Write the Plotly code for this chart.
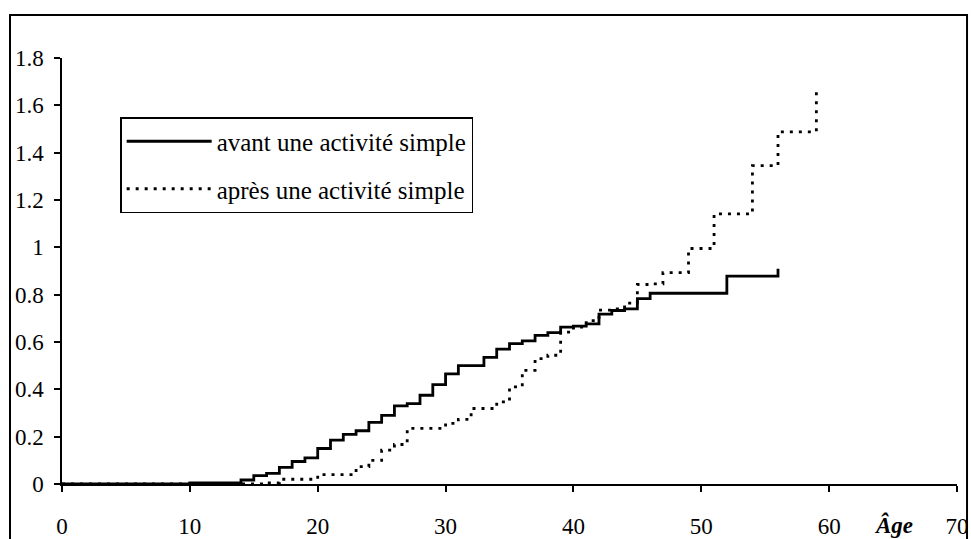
import plotly.graph_objects as go

# Data (cumulative values by age)
avant_age = [0, 10, 14, 15, 16, 17, 18, 19, 20, 21, 22, 23, 24, 25, 26, 27, 28, 29, 30, 31,
             33, 34, 35, 36, 37, 38, 39, 40, 41, 42, 43, 44, 45, 46, 52, 56]
avant_val = [0, 0.005, 0.017, 0.035, 0.045, 0.07, 0.095, 0.11, 0.15, 0.185, 0.21, 0.225, 0.26,
             0.29, 0.33, 0.34, 0.375, 0.42, 0.465, 0.5, 0.535, 0.57, 0.593, 0.605, 0.628, 0.64,
             0.663, 0.667, 0.677, 0.718, 0.733, 0.74, 0.783, 0.806, 0.878, 0.91]

apres_age = [0, 16, 17, 20, 23, 24, 25, 26, 27, 30, 31, 32, 34, 35, 36, 37, 38, 39, 40, 41,
             42, 43, 44, 45, 46, 47, 49, 51, 54, 56, 59]
apres_val = [0, 0.005, 0.02, 0.04, 0.073, 0.10, 0.143, 0.167, 0.235, 0.256, 0.273, 0.319,
             0.347, 0.41, 0.48, 0.53, 0.544, 0.642, 0.663, 0.69, 0.735, 0.74, 0.764, 0.843,
             0.846, 0.893, 0.995, 1.141, 1.345, 1.488, 1.661]

series_names = ["avant une activité simple", "après une activité simple"]
x_ticks = [0, 10, 20, 30, 40, 50, 60, 70]
y_ticks = [0, 0.2, 0.4, 0.6, 0.8, 1.0, 1.2, 1.4, 1.6, 1.8]
y_tick_text = ["0", "0.2", "0.4", "0.6", "0.8", "1", "1.2", "1.4", "1.6", "1.8"]
x_label = "Âge"

FONT = "Liberation Serif, Times New Roman, serif"

fig = go.Figure()
fig.add_trace(go.Scatter(x=avant_age, y=avant_val, mode="lines", line_shape="hv",
                         name=series_names[0], legendgroup="a",
                         line=dict(color="black", width=2.8)))
fig.add_trace(go.Scatter(x=apres_age, y=apres_val, mode="lines", line_shape="hv",
                         name=series_names[1], legendgroup="b",
                         line=dict(color="black", width=2.8, dash="3px,6px")))

fig.update_layout(
    width=971, height=539,
    autosize=False,
    margin=dict(l=62, r=14, t=58, b=55, autoexpand=False),
    paper_bgcolor="white", plot_bgcolor="white",
    font=dict(family=FONT, size=23, color="black"),
    showlegend=True,
    legend=dict(x=0.065, y=0.8615, xanchor="left", yanchor="top",
                bordercolor="black", borderwidth=1.5, bgcolor="white",
                font=dict(family=FONT, size=25, color="black"),
                traceorder="grouped", tracegroupgap=12, itemwidth=85),
    xaxis=dict(range=[0, 70], tickvals=x_ticks, ticktext=[str(v) for v in x_ticks],
               showline=True, linecolor="black", linewidth=1.5,
               ticks="outside", ticklen=6, tickwidth=1.5, tickcolor="black",
               showgrid=False, zeroline=False, ticklabelstandoff=15, automargin=False),
    yaxis=dict(range=[0, 1.8], tickvals=y_ticks, ticktext=y_tick_text,
               showline=True, linecolor="black", linewidth=1.5,
               ticks="outside", ticklen=6, tickwidth=1.5, tickcolor="black",
               showgrid=False, zeroline=False, ticklabelstandoff=6, automargin=False),
)

fig.add_annotation(x=65, y=0, xref="x", yref="paper", yshift=-41, text="<b><i>" + x_label + "</i></b>",
                   showarrow=False, font=dict(family=FONT, size=23, color="black"),
                   xanchor="center", yanchor="middle")

# Outer chart frame
fig.add_shape(type="rect", xref="paper", yref="paper", x0=-0.0581, x1=1.0112, y0=-0.3, y1=1.101,
              line=dict(color="black", width=2), layer="below")

fig.write_html("out.html", config={"displayModeBar": False},
               post_script="document.body.style.margin='0';document.body.style.overflow='hidden';")
